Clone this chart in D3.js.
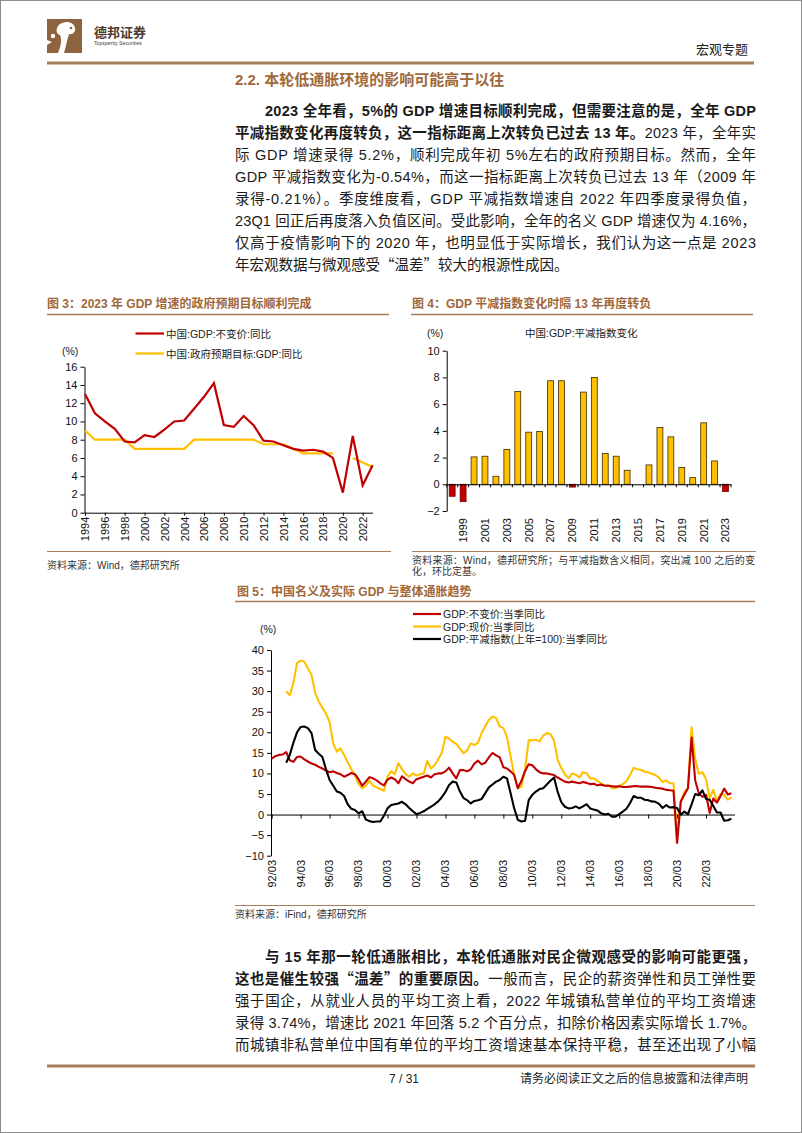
<!DOCTYPE html>
<html><head><meta charset="utf-8">
<script src="https://cdn.jsdelivr.net/npm/d3@7"></script>
<style>
html,body{margin:0;padding:0;background:#fff;}
svg{display:block;}
text{font-family:"Liberation Sans","Noto Sans CJK SC",sans-serif;}
</style></head><body>
<svg id="page" width="802" height="1133"></svg>
<script>
// ---------- Figure 3 data ----------
const c3Years = [1994,1995,1996,1997,1998,1999,2000,2001,2002,2003,2004,2005,2006,2007,2008,2009,2010,2011,2012,2013,2014,2015,2016,2017,2018,2019,2020,2021,2022,2023];
const c3Real = [13.0,10.9,10.0,9.2,7.8,7.7,8.5,8.3,9.1,10.0,10.1,11.4,12.7,14.2,9.6,9.4,10.6,9.6,7.9,7.8,7.4,7.0,6.8,6.9,6.7,6.0,2.2,8.4,3.0,5.2];
const c3Target = [9,8,8,8,8,7,7,7,7,7,7,8,8,8,8,8,8,8,7.5,7.5,7.5,7,6.5,6.5,6.5,6.5,null,6,5.5,5];
const c3XTicks = [1994,1996,1998,2000,2002,2004,2006,2008,2010,2012,2014,2016,2018,2020,2022];
const c3YTicks = [0,2,4,6,8,10,12,14,16];
const c3Legend = ["中国:GDP:不变价:同比","中国:政府预期目标:GDP:同比"];

// ---------- Figure 4 data ----------
const c4Years = [1998,1999,2000,2001,2002,2003,2004,2005,2006,2007,2008,2009,2010,2011,2012,2013,2014,2015,2016,2017,2018,2019,2020,2021,2022,2023];
const c4Deflator = [-0.9,-1.3,2.05,2.1,0.6,2.6,6.95,3.9,3.95,7.75,7.75,-0.21,6.9,8.0,2.3,2.1,1.05,0.0,1.45,4.25,3.55,1.25,0.5,4.6,1.75,-0.54];
const c4XTicks = [1999,2001,2003,2005,2007,2009,2011,2013,2015,2017,2019,2021,2023];
const c4YTicks = [-2,0,2,4,6,8,10];

// ---------- Figure 5 data (quarterly, 1992Q1 - 2023Q4) ----------
const c5YearsShort = ["92","93","94","95","96","97","98","99","00","01","02","03","04","05","06","07","08","09","10","11","12","13","14","15","16","17","18","19","20","21","22","23"];
const c5Months = ["03","06","09","12"];
const c5Quarters = c5YearsShort.flatMap(y => c5Months.map(m => y + "/" + m));
const c5Real = [
 13.6,14.2,14.5,14.6, 15.2,13.2,12.8,14.0, 14.1,13.4,12.9,12.4, 12.1,11.6,11.2,10.7,
 10.3,10.5,10.1,9.8, 9.2,9.6,10.1,9.8, 8.6,7.0,8.0,9.1, 8.8,8.3,7.6,7.1,
 8.5,9.0,8.6,7.6, 9.3,8.6,8.0,7.6, 8.6,8.9,9.2,9.5, 9.0,9.8,10.0,10.0,
 10.5,11.4,10.0,8.8, 10.8,10.8,10.5,11.0, 12.4,13.1,12.2,12.6, 13.9,15.0,14.4,13.9,
 11.5,11.2,10.5,9.6, 6.4,8.2,10.6,12.2, 12.0,11.0,10.3,10.0, 10.0,9.8,9.6,9.0,
 8.5,8.0,7.8,8.0, 7.8,7.6,7.9,7.7, 7.4,7.5,7.1,7.3, 7.0,7.0,6.9,6.8,
 6.9,6.7,6.7,6.8, 6.9,6.9,6.8,6.8, 6.8,6.7,6.5,6.4, 6.3,6.0,5.9,5.8,
 -6.9,3.1,4.8,6.4, 18.7,8.3,5.2,4.3, 4.8,0.4,3.9,2.9, 4.5,6.3,4.9,5.2];
const c5Nominal = [
 null,null,null,null, 30.0,29.0,32.0,36.8, 37.4,37.2,35.5,34.0, 29.6,27.5,26.0,24.5,
 22.5,17.3,15.3,16.1, 14.5,12.7,11.0,9.5, 7.5,6.4,7.0,8.3, 7.0,6.6,6.2,5.8,
 9.2,10.5,9.8,12.5, 11.0,9.9,9.2,10.0, 9.5,9.8,10.0,13.0, 11.2,12.0,13.4,15.0,
 18.9,18.5,17.7,17.2, 16.0,14.9,15.6,17.3, 16.9,17.5,19.8,21.5, 23.0,23.8,23.5,21.4,
 21.0,18.9,14.1,9.5, 6.4,6.8,11.0,18.1, 18.0,18.2,17.8,19.2, 19.8,19.6,18.0,13.3,
 11.3,9.8,8.8,10.0, 9.7,9.0,10.3,10.0, 8.8,8.8,8.2,7.6, 7.0,7.2,6.4,6.4,
 7.0,7.4,8.1,9.6, 11.4,11.0,10.9,10.4, 10.3,9.9,9.6,9.0, 7.9,8.3,7.6,7.6,
 -5.3,3.2,5.5,6.5, 21.2,13.5,9.9,10.3, 8.6,4.0,6.0,3.4, 5.0,4.8,3.6,4.2];
const c5Deflator = [
 null,null,null,null, 12.6,14.5,17.5,20.0, 21.3,21.4,21.0,19.8, 15.7,14.8,14.0,11.0,
 8.4,7.0,5.6,5.3, 4.5,2.5,1.4,1.1, 0.3,0.8,-1.2,-1.6, -1.8,-1.7,-1.7,-0.3,
 1.5,2.3,2.5,2.7, 3.1,2.5,1.6,0.8, 0.1,0.4,0.8,1.4, 1.9,2.5,3.2,4.2,
 5.5,7.2,8.0,7.8, 5.6,4.0,3.5,2.7, 3.3,3.5,3.8,5.2, 6.6,7.3,8.0,8.4,
 9.2,8.8,5.2,1.5, -1.3,-1.7,-1.5,3.5, 4.8,5.6,6.2,6.4, 7.3,8.2,9.0,5.5,
 3.0,1.9,1.5,1.6, 2.0,1.5,2.0,2.5, 1.5,1.2,1.0,0.3, 0.0,0.2,-0.5,-0.5,
 0.1,0.7,1.4,2.8, 4.5,4.1,4.1,3.6, 3.5,3.2,3.1,2.6, 1.6,2.3,1.7,1.8,
 1.6,0.0,0.7,0.1, 2.5,5.0,4.7,5.9, 3.8,3.6,2.1,0.5, 0.5,-1.5,-1.4,-1.0];
const c5XTicks = ["92/03","94/03","96/03","98/03","00/03","02/03","04/03","06/03","08/03","10/03","12/03","14/03","16/03","18/03","20/03","22/03"];
const c5YTicks = [-10,-5,0,5,10,15,20,25,30,35,40];
const c5Legend = ["GDP:不变价:当季同比","GDP:现价:当季同比","GDP:平减指数(上年=100):当季同比"];

// ---------- styles ----------
const RED = "#C00000", YEL = "#FFC000", BROWN = "#A0683A", LINEBROWN = "#A67E5C";
const svg = d3.select("#page");
svg.append("rect").attr("width",802).attr("height",1133).attr("fill","#fff");
svg.append("rect").attr("x",0.5).attr("y",0.5).attr("width",801).attr("height",1132)
   .attr("fill","none").attr("stroke","#8c8c8c");

function txt(x, y, segs, size, opts) {
  opts = opts || {};
  const t = svg.append("text").attr("x", x).attr("y", y).attr("font-size", size)
    .attr("fill", opts.color || "#1a1a1a");
  if (opts.anchor) t.attr("text-anchor", opts.anchor);
  if (typeof segs === "string") segs = [{t: segs, b: !!opts.bold}];
  segs.forEach(s => {
    const ts = t.append("tspan").attr("font-weight", s.b ? "bold" : "normal").text(s.t);
    if (s.cjk) ts.attr("font-family", '"Noto Sans CJK SC"');
  });
  if (opts.width) t.attr("textLength", opts.width).attr("lengthAdjust", "spacing");
  return t;
}
function hline(x1, x2, y, w, c) {
  svg.append("line").attr("x1", x1).attr("x2", x2).attr("y1", y).attr("y2", y)
    .attr("stroke", c).attr("stroke-width", w);
}

// ---------- header ----------
const logo = svg.append("g");
logo.append("rect").attr("x",47).attr("y",19).attr("width",35).attr("height",34).attr("fill","#8E6440");
logo.append("path").attr("d","M60,24 C66,20 74,22 75,28 C76,32 72,35 69,34 C67,40 66,46 64,53 L58,53 C61,46 62,40 60,35 C56,34 55,28 60,24 Z").attr("fill","#fff");
logo.append("circle").attr("cx",53).attr("cy",36).attr("r",2.2).attr("fill","#fff");
logo.append("path").attr("d","M47,40 L52,42 L47,45 Z").attr("fill","#fff");
logo.append("circle").attr("cx",71).attr("cy",28).attr("r",1.3).attr("fill","#8E6440");
txt(94, 37, "德邦证券", 13, {bold: true, color: "#4a3b30"});
txt(94, 45, "Topsperity Securities", 5.2, {color: "#4a3b30"});
txt(748, 54, "宏观专题", 13, {anchor: "end", color: "#222"});
hline(47, 754, 63, 3, LINEBROWN);

// section title
txt(235, 85, "2.2. 本轮低通胀环境的影响可能高于以往", 15, {bold: true, color: BROWN});

// ---------- paragraph 1 ----------
const P1 = [
  {x:265, segs:[{t:"2023 全年看，5%的 GDP 增速目标顺利完成，但需要注意的是，全年 GDP", b:true}]},
  {x:235, segs:[{t:"平减指数变化再度转负，这一指标距离上次转负已过去 13 年。", b:true},{t:"2023 年，全年实", b:false}]},
  {x:235, segs:[{t:"际 GDP 增速录得 5.2%，顺利完成年初 5%左右的政府预期目标。然而，全年"}]},
  {x:235, segs:[{t:"GDP 平减指数变化为-0.54%，而这一指标距离上次转负已过去 13 年（2009 年"}]},
  {x:235, segs:[{t:"录得-0.21%）。季度维度看，GDP 平减指数增速自 2022 年四季度录得负值，"}]},
  {x:235, segs:[{t:"23Q1 回正后再度落入负值区间。受此影响，全年的名义 GDP 增速仅为 4.16%，"}]},
  {x:235, segs:[{t:"仅高于疫情影响下的 2020 年，也明显低于实际增长，我们认为这一点是 2023"}]},
  {x:235, segs:[{t:"年宏观数据与微观感受"},{t:"“", cjk:true},{t:"温差"},{t:"”", cjk:true},{t:"较大的根源性成因。"}], last:true}
];
P1.forEach((l, i) => txt(l.x, 116 + i * 22, l.segs, 14.5, {width: l.last ? null : 756 - l.x}));

const P2 = [
  {x:265, segs:[{t:"与 15 年那一轮低通胀相比，本轮低通胀对民企微观感受的影响可能更强，", b:true}]},
  {x:235, segs:[{t:"这也是催生较强", b:true},{t:"“", b:true, cjk:true},{t:"温差", b:true},{t:"”", b:true, cjk:true},{t:"的重要原因。", b:true},{t:"一般而言，民企的薪资弹性和员工弹性要"}]},
  {x:235, segs:[{t:"强于国企，从就业人员的平均工资上看，2022 年城镇私营单位的平均工资增速"}]},
  {x:235, segs:[{t:"录得 3.74%，增速比 2021 年回落 5.2 个百分点，扣除价格因素实际增长 1.7%。"}]},
  {x:235, segs:[{t:"而城镇非私营单位中国有单位的平均工资增速基本保持平稳，甚至还出现了小幅"}]}
];
P2.forEach((l, i) => txt(l.x, 962 + i * 22, l.segs, 14.5, {width: 756 - l.x}));

// ---------- footer ----------
hline(47, 755, 1066, 3, LINEBROWN);
txt(404, 1083, "7 / 31", 12, {anchor: "middle", color: "#222"});
txt(748, 1083, "请务必阅读正文之后的信息披露和法律声明", 12, {anchor: "end", color: "#222"});

// ---------- figure titles ----------
txt(47, 308, "图 3：2023 年 GDP 增速的政府预期目标顺利完成", 12, {bold: true, color: BROWN});
txt(412, 308, "图 4：GDP 平减指数变化时隔 13 年再度转负", 12, {bold: true, color: BROWN});
hline(47, 389, 314.5, 1.6, LINEBROWN);
hline(411, 753, 314.5, 1.6, LINEBROWN);
hline(47, 391, 551.5, 1.2, LINEBROWN);
hline(412, 756, 551.5, 1.2, LINEBROWN);
txt(47, 569, "资料来源：Wind，德邦研究所", 10, {color: "#333"});
txt(412, 564, "资料来源：Wind，德邦研究所；与平减指数含义相同，突出减 100 之后的变", 10, {color: "#333", width: 343});
txt(412, 575, "化，环比定基。", 10, {color: "#333"});

txt(237, 596, "图 5：中国名义及实际 GDP 与整体通胀趋势", 12, {bold: true, color: BROWN});
hline(235, 755, 601.5, 1.6, LINEBROWN);
hline(235, 755, 905.5, 1.2, LINEBROWN);
txt(235, 918, "资料来源：iFind，德邦研究所", 10, {color: "#333"});

function styleAxis(g) {
  g.selectAll("path.domain").attr("stroke", "#000").attr("stroke-width", 1);
  g.selectAll(".tick line").attr("stroke", "#000");
  g.selectAll("text").attr("font-family", '"Liberation Sans", Arial, sans-serif')
    .attr("font-size", 11).attr("fill", "#111");
}

// ---------- Figure 3 chart ----------
{
  const x = d3.scalePoint().domain(c3Years).range([85, 372.6]);
  const y = d3.scaleLinear().domain([0, 16]).range([512.7, 366.7]);
  const gy = svg.append("g").attr("transform", "translate(84.5,0)")
    .call(d3.axisLeft(y).tickValues(c3YTicks).tickSize(4).tickSizeOuter(0));
  styleAxis(gy);
  const gx = svg.append("g").attr("transform", `translate(0,${y(0)})`)
    .call(d3.axisBottom(x).tickValues(c3XTicks).tickSize(3).tickSizeOuter(0));
  styleAxis(gx);
  gx.select("path.domain").attr("d", `M84.5,0.5H373`);
  gx.selectAll(".tick text").attr("transform", "rotate(-90)").attr("text-anchor", "end")
    .attr("x", -4).attr("y", 0).attr("dy", "0.35em");
  const line = d3.line().defined(d => d.v != null).x(d => x(d.k)).y(d => y(d.v));
  svg.append("path").datum(c3Years.map((k, i) => ({k, v: c3Target[i]})))
    .attr("d", line).attr("fill", "none").attr("stroke", YEL).attr("stroke-width", 2.2);
  svg.append("path").datum(c3Years.map((k, i) => ({k, v: c3Real[i]})))
    .attr("d", line).attr("fill", "none").attr("stroke", RED).attr("stroke-width", 2.2);
  txt(62, 355, "(%)", 10.5, {color: "#222"});
  [RED, YEL].forEach((c, i) => {
    hline(135.5, 164, 333.5 + i * 20, 2.2, c);
    txt(166, 337.5 + i * 20, c3Legend[i], 10.5, {color: "#222"});
  });
}

// ---------- Figure 4 chart ----------
{
  const x = d3.scaleBand().domain(c4Years).range([446.7, 731]).paddingInner(0.46).paddingOuter(0.23);
  const y = d3.scaleLinear().domain([-2, 10]).range([511, 350.7]);
  const gy = svg.append("g").attr("transform", "translate(446.7,0)")
    .call(d3.axisLeft(y).tickValues(c4YTicks).tickSize(4).tickSizeOuter(0));
  styleAxis(gy);
  svg.selectAll(".bar4").data(c4Years).enter().append("rect")
    .attr("x", d => x(d)).attr("width", x.bandwidth())
    .attr("y", (d, i) => y(Math.max(0, c4Deflator[i])))
    .attr("height", (d, i) => Math.abs(y(c4Deflator[i]) - y(0)))
    .attr("fill", (d, i) => c4Deflator[i] < 0 ? RED : YEL)
    .attr("stroke", (d, i) => c4Deflator[i] < 0 ? "#7a0000" : "#3b2a00").attr("stroke-width", 0.8);
  const gx = svg.append("g").attr("transform", `translate(0,${y(0)})`)
    .call(d3.axisBottom(x).tickValues([]).tickSizeOuter(0));
  styleAxis(gx);
  gx.selectAll(".bt").data(d3.range(c4Years.length + 1)).enter().append("line")
    .attr("x1", i => 446.7 + i * (284.3 / c4Years.length)).attr("x2", i => 446.7 + i * (284.3 / c4Years.length))
    .attr("y1", 0).attr("y2", 3).attr("stroke", "#000");
  svg.append("g").selectAll("text").data(c4XTicks).enter().append("text")
    .attr("transform", d => `translate(${x(d) + x.bandwidth() / 2},518) rotate(-90)`)
    .attr("text-anchor", "end").attr("dy", "0.35em")
    .attr("font-size", 11).attr("fill", "#111").text(d => d);
  txt(427, 336.5, "(%)", 10.5, {color: "#222"});
  txt(525, 336.5, "中国:GDP:平减指数变化", 10.5, {color: "#222"});
}

// ---------- Figure 5 chart ----------
{
  const x = d3.scalePoint().domain(c5Quarters).range([271.7, 731.4]);
  const y = d3.scaleLinear().domain([-10, 40]).range([855.7, 650]);
  const gy = svg.append("g").attr("transform", "translate(271,0)")
    .call(d3.axisLeft(y).tickValues(c5YTicks).tickSize(4).tickSizeOuter(0));
  styleAxis(gy);
  const gx = svg.append("g").attr("transform", `translate(0,${y(0)})`)
    .call(d3.axisBottom(x).tickValues(c5XTicks).tickSize(4).tickFormat("").tickSizeOuter(0));
  styleAxis(gx);
  gx.select("path.domain").attr("d", "M271,0.5H735");
  svg.append("g").selectAll("text").data(c5XTicks).enter().append("text")
    .attr("transform", d => `translate(${x(d)},860) rotate(-90)`)
    .attr("text-anchor", "end").attr("dy", "0.35em")
    .attr("font-size", 11).attr("fill", "#111").text(d => d);
  const line = d3.line().defined(d => d.v != null).x(d => x(d.k)).y(d => y(d.v));
  const series = [[c5Real, RED], [c5Nominal, YEL], [c5Deflator, "#000"]];
  [series[1], series[0], series[2]].forEach(([arr, c]) => {
    svg.append("path").datum(c5Quarters.map((k, i) => ({k, v: arr[i]})))
      .attr("d", line).attr("fill", "none").attr("stroke", c).attr("stroke-width", 2.1)
      .attr("stroke-linejoin", "round");
  });
  txt(260, 633, "(%)", 10.5, {color: "#222"});
  series.forEach(([arr, c], i) => {
    hline(413, 441, 614 + i * 12.5, 2.2, c);
    txt(443, 618 + i * 12.5, c5Legend[i], 10.5, {color: "#222"});
  });
}
</script>
</body></html>
